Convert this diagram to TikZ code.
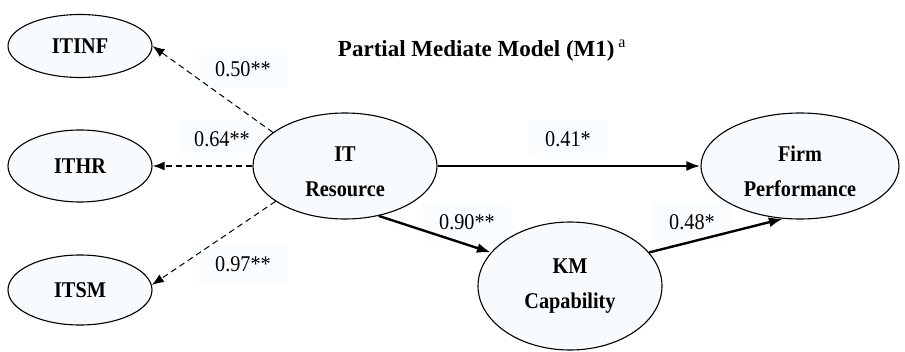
\documentclass[tikz,border=0pt]{standalone}
\usepackage{fontspec}
\setmainfont{Liberation Serif}
\newfontfamily\condfont{Liberation Serif}[FakeStretch=0.9]
\usetikzlibrary{shapes.geometric,arrows.meta}
\definecolor{ellfill}{HTML}{F7FBFE}
\definecolor{labfill}{HTML}{FAFDFF}
\begin{document}
\begin{tikzpicture}[x=1pt,y=-1pt,
  latent/.style={ellipse,draw=black,line width=1.1pt,fill=ellfill,inner sep=0pt,
    align=center,font=\condfont\fontsize{22.5}{35}\selectfont\bfseries},
  coef/.style={fill=labfill,inner xsep=16pt,inner ysep=11pt,font=\condfont\fontsize{22.5}{24}\selectfont},
  dasharrow/.style={dashed,line width=1pt,dash pattern=on 6pt off 4pt,-{Latex[length=12pt,width=9pt]}},
  solidarrow/.style={line width=2.4pt,-{Latex[length=14pt,width=10pt]}}]
\useasboundingbox (0,0) rectangle (905,351);
% labels (backgrounds)
\node[coef] (l50) at (243,69) {0.50**};
\node[coef] (l64) at (222,139) {0.64**};
\node[coef] (l97) at (243,264) {0.97**};
\node[coef] (l41) at (568,139) {0.41*};
\node[coef] (l90) at (467,222) {0.90**};
\node[coef] (l48) at (692,222) {0.48*};
% nodes
\node[latent,minimum width=144pt,minimum height=63pt] (itinf) at (80,46) {ITINF};
\node[latent,minimum width=144pt,minimum height=72pt] (ithr) at (80,166) {ITHR};
\node[latent,minimum width=144pt,minimum height=70pt] (itsm) at (80,290) {ITSM};
\node[latent,minimum width=184pt,minimum height=106pt] (it) at (345,166) {\rule{0pt}{26pt}IT\\Resource};
\node[latent,minimum width=198pt,minimum height=106pt] (firm) at (800,166) {\rule{0pt}{26pt}Firm\\Performance};
\node[latent,minimum width=184pt,minimum height=128pt] (km) at (570,286) {KM\\Capability};
% title
\node[font=\fontsize{23}{26}\selectfont\bfseries] (title) at (482,51) {Partial Mediate Model (M1)\,\textsuperscript{\mdseries a}};
% connectors
\draw[dasharrow] (it.155) -- (itinf.east);
\draw[dasharrow,line width=1.8pt] (it.west) -- (ithr.east);
\draw[dasharrow] (it.207) -- (itsm.4);
\draw[solidarrow] (it.east) -- (firm.west);
\draw[solidarrow] (it.-56) -- (km.157);
\draw[solidarrow] (km.23) -- (firm.-108);
\end{tikzpicture}
\end{document}
